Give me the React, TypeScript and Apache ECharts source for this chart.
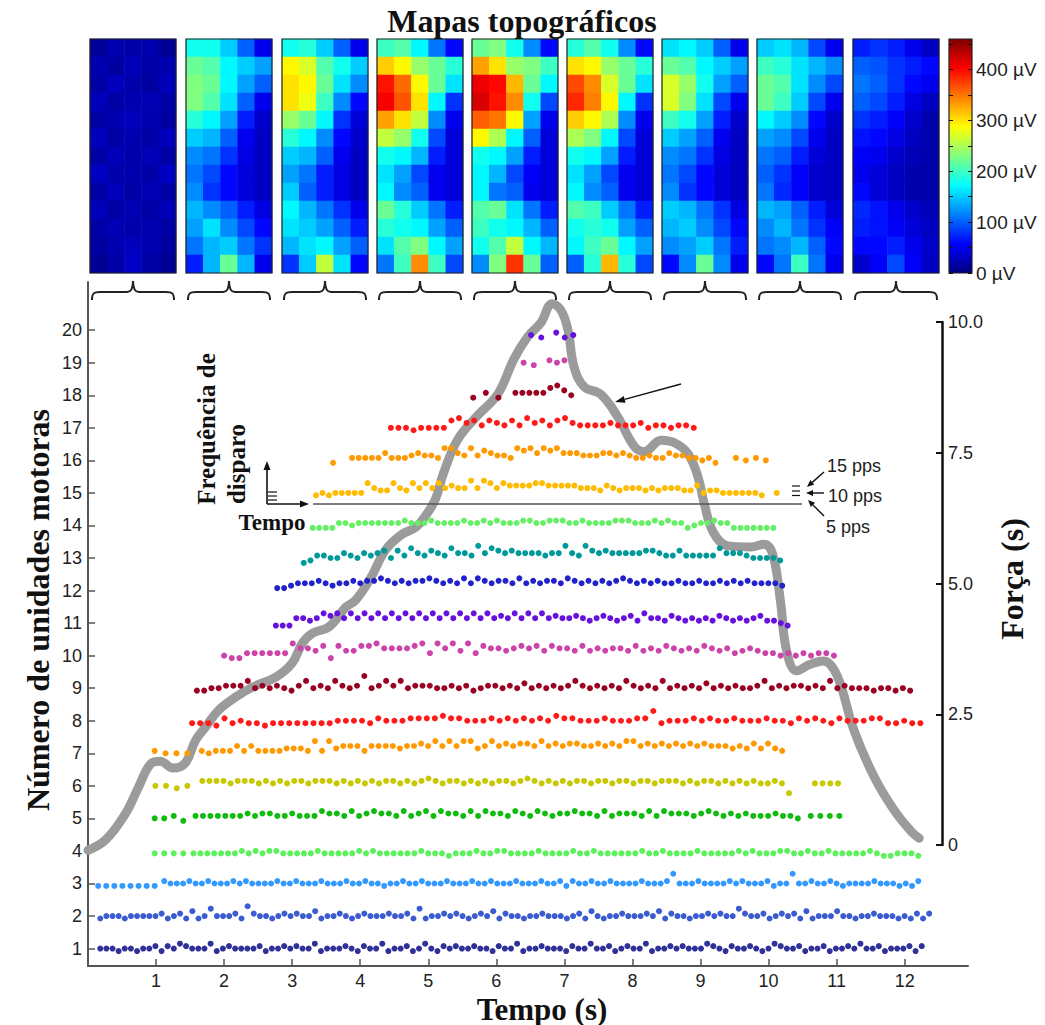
import React, { useEffect, useRef } from "react";
import * as echarts from "echarts";

type Seg = [number, number, string];

// ---- motor unit firing trains: [start s, end s, y-offset codes per discharge] ----
const U1: Seg[] = [[0.18, 12.25, "4443443445 3546544463 4544445344 5454463444 5435446344 5346435454 4544354463 4454443544 6445345446 3445454446 5435445434 6544534453 4454644534 44535"]];
const U2: Seg[] = [[0.18, 12.36, "3444344444 5345363474 4453854434 5454463445 4345444544 5373445454 3454635443 4454443453 6434454445 4635443445 4544754453 4545363444 6443445444 343535"]];
const U3: Seg[] = [[0.15, 0.98, "33333333"], [1.12, 12.2, "5444544544 4545444454 4544454445 4454434454 4544454445 4454445444 5445354454 4544445444 5844454444 5454445344 8445445434 4445444343 5"]];
const U4: Seg[] = [[0.98, 1.4, "3333"], [1.55, 12.2, "3333333434 3443333343 3333434333 3334333233 3433443333 4333343343 3333343343 3334333334 3433344334 3343333343 223332"]];
const U5: Seg[] = [[0.98, 1.4, "4453"], [1.58, 10.43, "5555555656 6556555766 5756766575 6757665757 6657657656 6766575666 5757666567 6565655565 54"], [10.62, 11.04, "5555"]];
const U6: Seg[] = [[0.99, 1.46, "4434"], [1.68, 10.3, "6666566656 5656656665 6565656656 5676566565 6566567656 5656656656 6566566656 5665656565 5651"], [10.68, 11.02, "5555"]];
const U7: Seg[] = [[0.98, 1.46, "5444"], [1.67, 10.2, "5455575755 5566659596 7775777767 7879797996 7978788797 8788778787 9978787878 7877767686 865"]];
const U8: Seg[] = [[1.53, 12.23, "3332534332 3333333344 4435444555 5655444545 4545465544 4544455834 4454544544 4544354543 5444553343 3"]];
const U9: Seg[] = [[1.6, 12.08, "3344555745 4543574547 5459457574 5554454534 5545464545 4575454547 5454745454 6454544574 5455454745 44434434 3"]];
const U10: Seg[] = [[2.0, 10.96, "4335555559 7768386688 9777789597 9695877678 7868776867 6776867687 6768767567 6554545455 4"]];
const U11: Seg[] = [[2.76, 10.28, "3336656878 6868686868 6868686868 6867686868 6766765676 5675866576 5656576565 675543"]];
const U12: Seg[] = [[2.78, 10.2, "5567778767 7878898787 8898787979 8788797878 8798787878 9878787787 7877878787 7776"]];
const U13: Seg[] = [[3.17, 10.17, "2355446546 5674758657 6586659687 6766665669 6597676666 6776557555 5586665444 43"]];
const U14: Seg[] = [[3.3, 10.07, "3333554555 5555655565 5556556565 5566556665 5655556665 5565655345 5655333333 3"]];
const U15: Seg[] = [[3.35, 9.9, "3434444486 5586586868 6766969868 7777887777 7666576566 6565666557 4554444443"], [10.12, 10.12, "4"]];
const U16: Seg[] = [[3.6, 3.6, "3"], [3.88, 9.22, "5555575556 7665997696 8766598979 8977766677 6765565576 655453"], [9.52, 9.96, "5454"]];
const U17: Seg[] = [[4.45, 8.9, "4443444478 6757657586 7578655556 5556455455 4"]];
const U18: Seg[] = [[5.66, 6.03, "353"], [6.28, 7.1, "555557864"]];
const U19: Seg[] = [[6.4, 6.55, "43"], [6.78, 7.0, "545"]];
const U20: Seg[] = [[6.51, 6.66, "21"], [6.88, 7.13, "312"]];
const unitSegments: Seg[][] = [U1, U2, U3, U4, U5, U6, U7, U8, U9, U10, U11, U12, U13, U14, U15, U16, U17, U18, U19, U20];
const unitColors = [
  "#30309a", "#3b5bd0", "#3399ff", "#5cf05c", "#11bb11", "#c8c800", "#ff9900", "#ff1a1a", "#990022", "#cc44aa",
  "#6611dd", "#2222cc", "#009999", "#66ee66", "#ffbb00", "#ff9900", "#ff1a1a", "#990022", "#cc44aa", "#6611dd",
];

// ---- force curve ----
const forceTime = [0, 0.26, 0.55, 0.74, 0.92, 1.06, 1.25, 1.43, 1.58, 1.73, 1.92, 2.17, 2.42, 2.76, 3.0, 3.15, 3.3, 3.54, 3.79, 3.93, 4.15, 4.37, 4.6, 4.82, 4.96, 5.1, 5.22, 5.43, 5.73, 6.02, 6.26, 6.46, 6.65, 6.82, 6.95, 7.05, 7.14, 7.29, 7.53, 7.78, 8.02, 8.17, 8.42, 8.6, 8.81, 8.96, 9.05, 9.19, 9.4, 9.74, 9.93, 10.06, 10.17, 10.26, 10.41, 10.6, 10.8, 11.0, 11.25, 11.55, 11.84, 12.1, 12.21];
const forceValue = [-0.1, 0.1, 0.6, 1.1, 1.55, 1.6, 1.47, 1.57, 2.0, 2.26, 2.58, 2.83, 3.02, 3.21, 3.48, 3.86, 4.05, 4.17, 4.55, 4.68, 5.1, 5.64, 5.93, 6.08, 6.3, 6.6, 7.1, 7.75, 8.22, 8.62, 9.3, 9.72, 9.98, 10.35, 10.22, 9.85, 9.14, 8.76, 8.62, 8.19, 7.63, 7.52, 7.74, 7.7, 7.49, 7.04, 6.54, 5.97, 5.72, 5.7, 5.75, 5.55, 4.68, 3.73, 3.33, 3.45, 3.52, 3.25, 2.2, 1.3, 0.67, 0.25, 0.13];

// ---- tick labels ----
const timeTicks = [1, 2, 3, 4, 5, 6, 7, 8, 9, 10, 11, 12];
const unitTicks = [1, 2, 3, 4, 5, 6, 7, 8, 9, 10, 11, 12, 13, 14, 15, 16, 17, 18, 19, 20];
const colorbarLabels = [0, 100, 200, 300, 400];
const colorbarTicks = [0, 50, 100, 150, 200, 250, 300, 350, 400, 450];

// ---- topographic maps (µV), 13 rows x 5 columns, top row first ----
const MAP1 = [[12, 22, 18, 22, 10], [22, 15, 26, 18, 22], [18, 28, 20, 15, 26], [26, 18, 22, 24, 18], [18, 22, 28, 22, 15], [28, 18, 22, 18, 28], [18, 26, 20, 26, 18], [30, 20, 22, 18, 30], [18, 26, 18, 24, 18], [26, 18, 24, 18, 26], [18, 24, 20, 22, 18], [15, 22, 28, 22, 15], [10, 18, 32, 18, 10]];
const MAP2 = [[180, 180, 150, 100, 50], [220, 210, 170, 150, 130], [230, 220, 170, 130, 100], [230, 210, 160, 100, 50], [190, 170, 130, 70, 35], [150, 140, 100, 50, 30], [120, 110, 80, 45, 30], [110, 90, 60, 40, 30], [120, 80, 60, 40, 30], [140, 120, 100, 70, 45], [130, 160, 120, 90, 60], [110, 140, 150, 110, 80], [70, 140, 220, 140, 50]];
const MAP3 = [[180, 190, 150, 100, 50], [290, 270, 210, 180, 150], [300, 290, 220, 160, 120], [300, 280, 200, 120, 60], [240, 220, 170, 80, 40], [190, 170, 120, 60, 35], [150, 140, 100, 50, 30], [130, 110, 70, 45, 30], [150, 100, 70, 45, 30], [170, 140, 110, 80, 50], [160, 150, 130, 100, 70], [140, 160, 170, 130, 100], [80, 150, 260, 160, 60]];
const MAP4 = [[200, 210, 170, 110, 60], [310, 290, 240, 220, 190], [395, 355, 290, 220, 160], [405, 365, 300, 170, 80], [330, 300, 260, 120, 50], [260, 240, 180, 90, 40], [180, 170, 140, 70, 40], [160, 130, 90, 50, 40], [170, 120, 100, 50, 40], [220, 190, 150, 110, 70], [190, 180, 170, 130, 100], [160, 210, 230, 170, 130], [110, 200, 340, 200, 90]];
const MAP5 = [[220, 230, 180, 120, 60], [330, 300, 240, 230, 200], [410, 400, 320, 220, 170], [420, 395, 340, 180, 90], [360, 350, 290, 130, 50], [290, 250, 170, 100, 40], [180, 170, 130, 70, 40], [170, 140, 90, 55, 40], [170, 110, 100, 50, 40], [210, 220, 160, 110, 70], [200, 180, 170, 140, 100], [180, 210, 260, 170, 140], [120, 230, 380, 220, 100]];
const MAP6 = [[190, 210, 180, 120, 60], [300, 290, 240, 220, 190], [370, 340, 270, 220, 160], [385, 345, 290, 170, 80], [310, 290, 250, 120, 50], [250, 230, 170, 90, 40], [180, 170, 130, 70, 40], [160, 130, 90, 50, 40], [170, 120, 100, 50, 40], [210, 200, 150, 110, 70], [180, 190, 180, 130, 100], [170, 200, 220, 170, 130], [100, 190, 320, 190, 90]];
const MAP7 = [[160, 170, 150, 100, 50], [220, 210, 170, 150, 130], [270, 240, 180, 130, 100], [270, 230, 160, 90, 50], [200, 180, 130, 70, 35], [150, 130, 100, 50, 30], [120, 110, 80, 45, 30], [110, 90, 60, 40, 30], [120, 80, 60, 40, 30], [150, 140, 110, 80, 45], [140, 150, 120, 90, 60], [120, 130, 150, 110, 70], [60, 120, 220, 120, 50]];
const MAP8 = [[150, 160, 140, 90, 50], [200, 190, 160, 140, 120], [220, 210, 160, 120, 90], [220, 200, 150, 90, 50], [170, 150, 120, 60, 35], [130, 120, 90, 50, 30], [110, 100, 70, 40, 30], [100, 80, 55, 35, 30], [110, 75, 55, 35, 30], [140, 130, 100, 70, 40], [120, 140, 110, 80, 55], [110, 120, 140, 100, 60], [60, 110, 200, 110, 50]];
const MAP9 = [[70, 80, 70, 50, 30], [100, 95, 80, 70, 60], [110, 100, 80, 60, 50], [100, 90, 70, 45, 30], [80, 70, 55, 35, 20], [65, 60, 45, 30, 20], [55, 50, 35, 25, 20], [50, 40, 30, 20, 20], [60, 40, 30, 20, 20], [75, 65, 50, 35, 25], [70, 65, 55, 40, 30], [60, 60, 70, 50, 35], [35, 55, 90, 55, 30]];
const topoMaps = [MAP1, MAP2, MAP3, MAP4, MAP5, MAP6, MAP7, MAP8, MAP9];

// ---- layout / style constants ----
const JET = ["#00007F", "#0000FF", "#0080FF", "#00FFFF", "#80FF80", "#FFFF00", "#FF8000", "#FF0000", "#7F0000"];
const MAP_LEFTS = [90, 186, 282, 377, 472, 567, 662, 757, 853];
const MAP_TOP = 39, MAP_W = 86, MAP_H = 234;
const SANS = '"Liberation Sans", Arial, sans-serif';
const SERIF = '"Liberation Serif", "Times New Roman", serif';
const STEP = 0.075;

const BRACE_D = "M0,19 C0,12 2,11 8,11 L35,11 C39,11 41,8 41,0 C41,8 43,11 47,11 L74,11 C80,11 82,12 82,19";
echarts.graphic.registerShape("brace", echarts.graphic.extendPath(BRACE_D, {}) as any);

function unitDots(unit: number, segs: Seg[]) {
  const pts: number[][] = [];
  segs.forEach(([a, b, s]) => {
    const ch = s.replace(/\s+/g, "");
    const n = ch.length;
    for (let i = 0; i < n; i++) {
      const x = n === 1 ? a : a + ((b - a) * i) / (n - 1);
      pts.push([x, unit + (Number(ch[i]) - 4) * STEP]);
    }
  });
  return pts;
}

function arrow(x1: number, y1: number, x2: number, y2: number, head = 9, half = 3.5, width = 1.5, color = "#111") {
  const dx = x2 - x1, dy = y2 - y1, L = Math.hypot(dx, dy), ux = dx / L, uy = dy / L;
  const bx = x2 - ux * head, by = y2 - uy * head;
  return [
    { type: "line", shape: { x1, y1, x2: bx, y2: by }, style: { stroke: color, lineWidth: width }, z: 100 },
    { type: "polygon", shape: { points: [[x2, y2], [bx - uy * half, by + ux * half], [bx + uy * half, by - ux * half]] }, style: { fill: color }, z: 100 },
  ];
}

function txt(text: string, x: number, y: number, font: string, opts: any = {}) {
  return {
    type: "text", x, y, rotation: opts.rotation || 0, z: 100,
    style: { text, font, fill: opts.fill || "#111", align: opts.align || "center", verticalAlign: "middle" },
  };
}

function line(x1: number, y1: number, x2: number, y2: number, w = 1.5, color = "#111") {
  return { type: "line", shape: { x1, y1, x2, y2 }, style: { stroke: color, lineWidth: w }, z: 100 };
}

export default function App() {
  const ref = useRef<HTMLDivElement>(null);
  useEffect(() => {
    if (!ref.current) return;
    const chart = echarts.init(ref.current, undefined, { renderer: "svg" });

    const grids: any[] = [
      { left: 88, top: 282, width: 880, height: 684 },
      { left: 88, top: 322, width: 854, height: 523 },
      ...MAP_LEFTS.map((l) => ({ left: l, top: MAP_TOP, width: MAP_W, height: MAP_H })),
      { left: 949, top: MAP_TOP, width: 23, height: MAP_H },
    ];
    const tickLabel = { fontSize: 18, color: "#222", fontFamily: SANS };

    const xAxes: any[] = [
      {
        type: "value", gridIndex: 0, min: 0, max: 12.93,
        axisLine: { show: true, onZero: false, lineStyle: { color: "#555", width: 2 } },
        axisTick: { show: true, inside: true, length: 7, customValues: timeTicks, lineStyle: { color: "#555", width: 1.5 } },
        axisLabel: { ...tickLabel, customValues: timeTicks, margin: 6 },
        splitLine: { show: false },
      },
      { type: "value", gridIndex: 1, min: 0, max: 12.545, show: false, axisLine: { onZero: false } },
      ...MAP_LEFTS.map((_, i) => ({ type: "category", gridIndex: 2 + i, data: ["a", "b", "c", "d", "e"], show: false })),
      { type: "category", gridIndex: 11, data: ["cb"], show: false },
    ];
    const yAxes: any[] = [
      {
        type: "value", gridIndex: 0, min: 0.465, max: 21.48,
        axisLine: { show: true, onZero: false, lineStyle: { color: "#555", width: 2 } },
        axisTick: { show: true, inside: true, length: 7, customValues: unitTicks, lineStyle: { color: "#555", width: 1.5 } },
        axisLabel: { ...tickLabel, customValues: unitTicks, margin: 6 },
        splitLine: { show: false },
      },
      {
        type: "value", gridIndex: 1, position: "right", min: 0, max: 10, interval: 2.5,
        axisLine: { show: true, onZero: false, lineStyle: { color: "#111", width: 2.5 } },
        axisTick: { show: true, inside: true, length: 6, lineStyle: { color: "#111", width: 2 } },
        axisLabel: { ...tickLabel, margin: 6, formatter: (v: number) => (v === 0 ? "0" : v.toFixed(1)) },
        splitLine: { show: false },
      },
      ...MAP_LEFTS.map((_, i) => ({
        type: "category", gridIndex: 2 + i, inverse: true, show: false,
        data: topoMaps[i].map((__, r) => "r" + r),
      })),
      {
        type: "value", gridIndex: 11, position: "left", min: 0, max: 460, z: 20,
        axisLine: { show: false, onZero: false },
        axisTick: { show: true, inside: true, length: 4, customValues: colorbarTicks, lineStyle: { color: "#111" } },
        axisLabel: { show: false }, splitLine: { show: false },
      },
      {
        type: "value", gridIndex: 11, position: "right", min: 0, max: 460, z: 20,
        axisLine: { show: false, onZero: false },
        axisTick: { show: true, inside: true, length: 4, customValues: colorbarTicks, lineStyle: { color: "#111" } },
        axisLabel: { ...tickLabel, fontSize: 19, customValues: colorbarLabels, margin: 4, formatter: (v: number) => v + " µV" },
        splitLine: { show: false },
      },
    ];

    const heatSeries = topoMaps.map((m, i) => ({
      type: "heatmap", xAxisIndex: 2 + i, yAxisIndex: 2 + i, silent: true,
      data: m.flatMap((row, r) => row.map((v, c) => [c, r, v])),
    }));
    const scatterSeries = unitSegments.map((segs, k) => ({
      type: "scatter", xAxisIndex: 0, yAxisIndex: 0, silent: true, z: 3,
      symbolSize: 6, itemStyle: { color: unitColors[k], opacity: 1 },
      data: unitDots(k + 1, segs),
    }));
    const forceSeries = {
      type: "line", xAxisIndex: 1, yAxisIndex: 1, silent: true, z: 2, clip: false,
      smooth: 0.4, symbol: "none",
      lineStyle: { color: "#9b9b9b", width: 9, cap: "round", join: "round" },
      data: forceTime.map((t, i) => [t, forceValue[i]]),
    };

    const g: any[] = [];
    g.push(txt("Mapas topográficos", 522, 21, `bold 32px ${SERIF}`));
    MAP_LEFTS.forEach((l) => {
      g.push({ type: "rect", shape: { x: l, y: MAP_TOP, width: MAP_W, height: MAP_H }, style: { fill: "none", stroke: "#222", lineWidth: 1.2 }, z: 50 });
      g.push({ type: "brace", x: l + 2, y: 281, style: { fill: "none", stroke: "#222", lineWidth: 2 }, z: 50 });
    });
    g.push({
      type: "rect", z: 1,
      shape: { x: 949, y: MAP_TOP, width: 23, height: MAP_H },
      style: {
        stroke: "#222", lineWidth: 1.2,
        fill: { type: "linear", x: 0, y: 1, x2: 0, y2: 0, colorStops: JET.map((c, i) => ({ offset: i / (JET.length - 1), color: c })) },
      },
    });
    g.push(txt("Número de unidades motoras", 38, 610, `bold 32px ${SERIF}`, { rotation: Math.PI / 2 }));
    g.push(txt("Força (s)", 1012, 579, `bold 32px ${SERIF}`, { rotation: Math.PI / 2 }));
    g.push(txt("Tempo (s)", 542, 1009, `bold 31px ${SERIF}`));
    // inset
    g.push(txt("Frequência de", 206, 429, `bold 25px ${SERIF}`, { rotation: Math.PI / 2 }));
    g.push(txt("disparo", 236, 464, `bold 25px ${SERIF}`, { rotation: Math.PI / 2 }));
    g.push(txt("Tempo", 272, 522, `bold 23px ${SERIF}`));
    g.push(...arrow(267, 504, 267, 461, 9, 3.5, 1.6));
    g.push(...arrow(267, 504, 309, 504, 9, 3.5, 1.6));
    [492, 496, 500].forEach((y) => g.push(line(268, y, 277, y, 1.2)));
    g.push(line(313, 504, 802, 504, 1.6, "#555"));
    [486, 491, 495.5].forEach((y) => g.push(line(792, y, 800, y, 1.2)));
    g.push(...arrow(824, 472, 807, 487, 7, 3, 1.4));
    g.push(...arrow(824, 493, 806, 493, 7, 3, 1.4));
    g.push(...arrow(824, 516, 808, 500, 7, 3, 1.4));
    g.push(txt("15 pps", 827, 466, `18px ${SANS}`, { align: "left", fill: "#222" }));
    g.push(txt("10 pps", 828, 496, `18px ${SANS}`, { align: "left", fill: "#222" }));
    g.push(txt("5 pps", 826, 527, `18px ${SANS}`, { align: "left", fill: "#222" }));
    g.push(...arrow(681, 384, 615, 402, 10, 3.5, 1.5));

    chart.setOption({
      animation: false,
      backgroundColor: "#ffffff",
      grid: grids,
      xAxis: xAxes,
      yAxis: yAxes,
      visualMap: {
        type: "continuous", min: 0, max: 460, show: false,
        seriesIndex: topoMaps.map((_, i) => i),
        inRange: { color: JET },
      },
      series: [...heatSeries, ...scatterSeries, forceSeries],
      graphic: { elements: g },
    });
    return () => chart.dispose();
  }, []);
  return <div ref={ref} style={{ position: "absolute", left: 0, top: 0, width: 1045, height: 1025 }} />;
}
